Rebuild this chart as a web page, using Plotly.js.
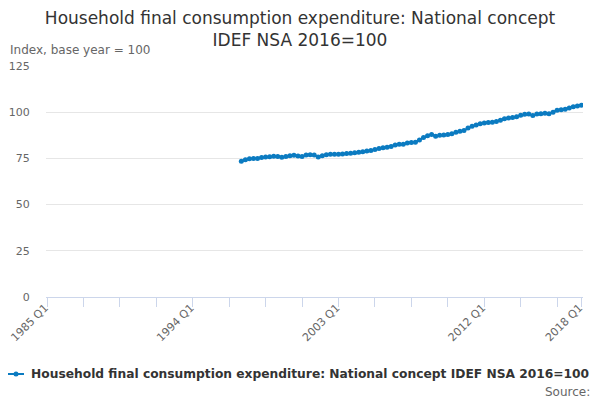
<!DOCTYPE html>
<html>
<head>
<meta charset="utf-8">
<script src="https://cdn.plot.ly/plotly-3.0.1.min.js"></script>
<style>
  html, body { margin: 0; padding: 0; background: #fff; }
  #chart { width: 600px; height: 400px; }
</style>
</head>
<body>
<div id="chart"></div>
<script>
// Quarter labels for the whole axis, 1985 Q1 .. 2018 Q1
const firstYear = 1985;
const lastYear = 2018;
const quarters = [];
for (let y = firstYear; y <= lastYear; y++) {
  for (let q = 1; q <= 4; q++) {
    if (y === lastYear && q > 1) break;
    quarters.push(y + ' Q' + q);
  }
}

// Series starts in 1997 Q1
const seriesStart = '1997 Q1';
const seriesName = 'Household final consumption expenditure: National concept IDEF NSA 2016=100';
const values = [
  73.5, 74.3, 74.8, 74.9,   // 1997
  75.0, 75.5, 75.7, 75.9,   // 1998
  76.1, 76.0, 75.6, 76.0,   // 1999
  76.5, 76.7, 76.3, 76.0,   // 2000
  76.8, 77.0, 76.8, 75.8,   // 2001
  76.5, 77.0, 77.3, 77.3,   // 2002
  77.2, 77.4, 77.6, 77.8,   // 2003
  78.0, 78.3, 78.6, 79.0,   // 2004
  79.3, 79.8, 80.3, 80.7,   // 2005
  81.0, 81.5, 82.2, 82.6,   // 2006
  82.6, 83.3, 83.6, 83.8,   // 2007
  84.9, 86.3, 87.3, 88.0,   // 2008
  87.0, 87.5, 87.7, 87.9,   // 2009
  88.4, 89.2, 89.7, 90.1,   // 2010
  91.4, 92.4, 93.1, 93.7,   // 2011
  94.2, 94.4, 94.6, 94.9,   // 2012
  95.7, 96.4, 96.9, 97.1,   // 2013
  97.6, 98.4, 98.9, 99.0,   // 2014
  98.2, 99.0, 99.2, 99.4,   // 2015
  99.1, 100.0, 101.1, 101.3, // 2016
  101.6, 102.3, 103.0, 103.4, // 2017
  103.8                     // 2018
];

const yTicks = [0, 25, 50, 75, 100, 125];

const startIdx = quarters.indexOf(seriesStart);
const xs = quarters.slice(startIdx, startIdx + values.length);

// tick every 9 quarters, label every 36, plus the last quarter
const tickvals = [];
const ticktext = [];
quarters.forEach((q, i) => {
  const last = i === quarters.length - 1;
  if (i % 9 === 0 || last) {
    tickvals.push(q);
    ticktext.push(i % 36 === 0 || last ? q : '');
  }
});

const font = 'DejaVu Sans, sans-serif';
const grey = '#666666';
const blue = '#0b7bc1';

// plot area in pixels, used to place the legend key outside it
const plotL = 46, plotW = 537, plotT = 66, plotH = 231;
const px = (x) => (x - plotL) / plotW;
const py = (y) => (plotT + plotH - y) / plotH;

const trace = {
  x: xs,
  y: values,
  type: 'scatter',
  mode: 'lines+markers',
  name: seriesName,
  showlegend: false,
  line: {color: blue, width: 2},
  marker: {color: blue, size: 5, symbol: 'circle'}
};

const legendY = 374;

const layout = {
  width: 600,
  height: 400,
  margin: {l: plotL, r: 600 - plotL - plotW, t: plotT, b: 400 - plotT - plotH},
  paper_bgcolor: '#ffffff',
  plot_bgcolor: '#ffffff',
  font: {family: font, color: grey},
  showlegend: false,
  title: {
    text: 'Household final consumption expenditure: National concept<br>IDEF NSA 2016=100',
    font: {family: font, size: 17, color: '#333333'},
    x: 0.5, xanchor: 'center',
    y: 0.94, yanchor: 'top', yref: 'container'
  },
  xaxis: {
    type: 'category',
    categoryorder: 'array',
    categoryarray: quarters,
    range: [-0.25, quarters.length - 1 + 0.4],
    tickmode: 'array',
    tickvals: tickvals,
    ticktext: ticktext,
    tickangle: -45,
    ticks: 'outside',
    ticklen: 9,
    tickcolor: '#ccd6eb',
    ticklabelshift: -2,
    ticklabelstandoff: -10,
    showline: true,
    linecolor: '#ccd6eb',
    linewidth: 1,
    showgrid: false,
    zeroline: false,
    automargin: false,
    tickfont: {family: font, size: 11, color: grey},
    fixedrange: true
  },
  yaxis: {
    range: [0, 125],
    tickvals: yTicks,
    showgrid: true,
    gridcolor: '#e6e6e6',
    gridwidth: 1,
    zeroline: false,
    showline: false,
    ticks: 'outside',
    ticklen: 13,
    tickcolor: 'rgba(0,0,0,0)',
    automargin: false,
    tickfont: {family: font, size: 11, color: grey},
    fixedrange: true
  },
  // legend key: short line with a dot
  shapes: [
    {
      type: 'line', xref: 'paper', yref: 'paper',
      x0: px(8), x1: px(24), y0: py(legendY), y1: py(legendY),
      line: {color: blue, width: 2}
    },
    {
      type: 'circle', xref: 'paper', yref: 'paper',
      x0: px(13.5), x1: px(18.5), y0: py(legendY + 2.5), y1: py(legendY - 2.5),
      fillcolor: blue, line: {color: blue, width: 0}
    }
  ],
  annotations: [
    {
      text: '<b>' + seriesName + '</b>',
      xref: 'paper', yref: 'paper',
      x: px(29), xanchor: 'left',
      y: py(legendY), yanchor: 'middle',
      showarrow: false,
      font: {family: font, size: 12.25, color: '#333333'}
    },
    {
      text: 'Index, base year = 100',
      xref: 'paper', yref: 'paper',
      x: px(8), xanchor: 'left',
      y: 1.03, yanchor: 'bottom',
      showarrow: false,
      font: {family: font, size: 12, color: grey}
    },
    {
      text: 'Source:',
      xref: 'paper', yref: 'paper',
      x: px(592), xanchor: 'right',
      y: py(392), yanchor: 'middle',
      showarrow: false,
      font: {family: font, size: 12, color: grey}
    }
  ]
};

Plotly.newPlot('chart', [trace], layout, {displayModeBar: false, responsive: false});
</script>
</body>
</html>
